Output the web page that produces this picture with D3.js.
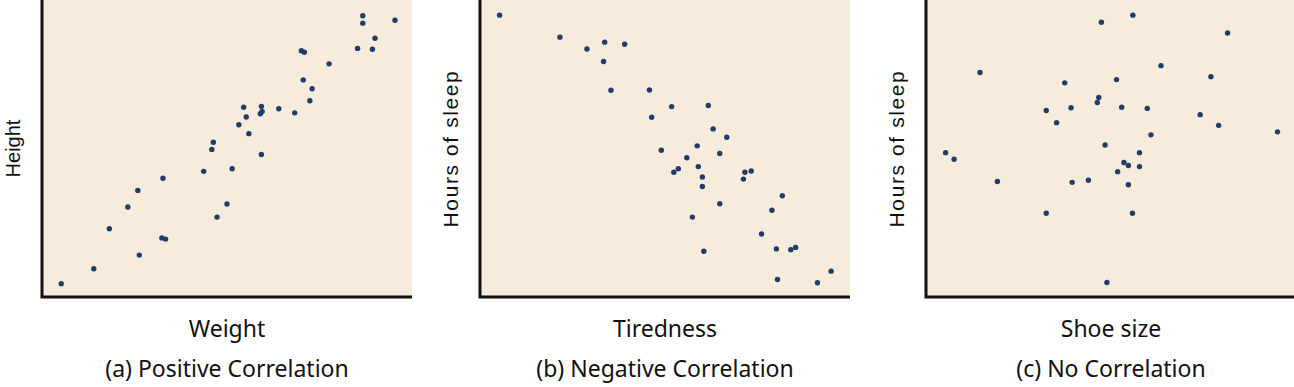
<!DOCTYPE html>
<html>
<head>
<meta charset="utf-8">
<script src="https://cdn.jsdelivr.net/npm/d3@7"></script>
<style>
  html, body { margin: 0; padding: 0; background: #fff; }
  svg { display: block; }
</style>
</head>
<body>
<div class="wrapper"></div>
<script>
// panel titles and axis labels
const panelTitles = ["(a) Positive Correlation", "(b) Negative Correlation", "(c) No Correlation"];
const xLabels = ["Weight", "Tiredness", "Shoe size"];
const yLabels = ["Height", "Hours of sleep", "Hours of sleep"];

// values, both axes in 0..100 units (no ticks shown)
const weightX = [5.2, 14.0, 18.2, 23.2, 25.9, 26.3, 32.7, 32.4, 33.4, 43.7, 47.3, 45.9, 46.3, 50.0, 51.4, 53.2, 54.5, 55.2, 55.9, 59.3, 59.3, 59.5, 59.0, 64.0, 68.3, 70.1, 70.9, 70.6, 73.0, 72.4, 77.6, 85.3, 89.3, 90.0, 86.7, 86.7, 95.4];
const heightY = [4.5, 9.5, 23.0, 30.3, 35.9, 14.1, 40.0, 19.9, 19.5, 42.3, 26.9, 49.7, 52.1, 31.3, 43.2, 58.0, 63.9, 60.6, 55.0, 48.0, 64.2, 62.5, 61.7, 63.4, 62.0, 82.9, 82.4, 73.1, 70.1, 66.1, 78.5, 83.7, 83.4, 87.1, 94.7, 92.2, 93.2];

const tirednessX = [5.3, 21.6, 28.9, 33.7, 39.1, 33.4, 35.4, 45.8, 51.8, 46.4, 61.7, 63.0, 66.7, 49.0, 58.7, 64.8, 55.9, 59.0, 52.4, 53.6, 60.1, 60.1, 71.2, 71.6, 73.3, 64.8, 57.4, 81.7, 78.9, 76.1, 60.5, 80.1, 84.0, 85.3, 80.4, 91.2, 94.9];
const sleepBY = [94.9, 87.5, 83.5, 85.8, 85.1, 79.3, 69.6, 69.7, 64.1, 60.5, 64.5, 56.6, 53.8, 49.4, 50.9, 48.3, 46.9, 43.9, 42.0, 43.2, 40.4, 37.2, 39.7, 42.0, 42.4, 31.4, 26.9, 34.1, 29.2, 21.2, 15.4, 16.2, 15.9, 16.7, 5.9, 4.8, 8.7];

const shoeX = [55.9, 47.4, 81.5, 14.6, 63.5, 77.0, 37.5, 51.5, 46.7, 46.3, 32.5, 39.2, 52.9, 59.8, 74.1, 35.3, 79.1, 95.0, 60.8, 48.4, 5.3, 7.6, 57.7, 53.5, 54.7, 57.7, 51.8, 19.3, 39.5, 43.9, 54.7, 32.5, 55.8, 48.9];
const sleepCY = [94.9, 92.5, 88.9, 75.6, 77.9, 74.2, 72.1, 73.2, 67.2, 65.5, 62.8, 63.7, 63.9, 63.5, 61.4, 58.7, 57.8, 55.6, 54.6, 51.2, 48.6, 46.4, 48.6, 45.3, 44.3, 43.9, 42.2, 38.9, 38.6, 39.3, 37.8, 28.2, 28.2, 4.9];

const seriesX = [weightX, tirednessX, shoeX];
const seriesY = [heightY, sleepBY, sleepCY];

const W = 1294, H = 387;
const panelLeft = [42, 480, 926];
const panelW = 370;
const plotTop = 0, plotBottom = 297;

const svg = d3.select(".wrapper").append("svg")
    .attr("width", W)
    .attr("height", H)
    .attr("viewBox", [0, 0, W, H]);

panelTitles.forEach((title, i) => {
    const x0 = panelLeft[i];
    const x = d3.scaleLinear().domain([0, 100]).range([x0, x0 + panelW]);
    const y = d3.scaleLinear().domain([0, 100]).range([plotBottom, plotTop]);
    const g = svg.append("g").attr("class", "panel");

    g.append("rect")
        .attr("x", x0)
        .attr("y", plotTop)
        .attr("width", Math.min(panelW, W - x0))
        .attr("height", plotBottom - plotTop)
        .attr("fill", "#f7ebdb");

    // axis lines (no ticks in the original)
    g.append("path")
        .attr("d", `M${x0},${plotTop}V${plotBottom}H${Math.min(x0 + panelW, W)}`)
        .attr("fill", "none")
        .attr("stroke", "#111")
        .attr("stroke-width", 3);

    g.selectAll("circle")
        .data(d3.zip(seriesX[i], seriesY[i]))
        .join("circle")
        .attr("cx", d => x(d[0]))
        .attr("cy", d => y(d[1]))
        .attr("r", 2.7)
        .attr("fill", "#1d3d6b");

    g.append("text")
        .text(yLabels[i])
        .attr("transform", `translate(${x0 - 22},${(plotTop + plotBottom) / 2}) rotate(-90)`)
        .attr("text-anchor", "middle")
        .attr("font-family", "'Liberation Sans', Arial, sans-serif")
        .attr("font-size", i === 0 ? 20 : 21)
        .attr("letter-spacing", i === 0 ? 0 : 1.6)
        .attr("fill", "#111");

    g.append("text")
        .text(xLabels[i])
        .attr("x", x0 + panelW / 2)
        .attr("y", 337)
        .attr("text-anchor", "middle")
        .attr("font-family", "'Noto Sans', sans-serif")
        .attr("font-size", 23)
        .attr("fill", "#111");

    g.append("text")
        .text(title)
        .attr("x", x0 + panelW / 2)
        .attr("y", 377)
        .attr("text-anchor", "middle")
        .attr("font-family", "'Noto Sans', sans-serif")
        .attr("font-size", 23)
        .attr("fill", "#111");
});
</script>
</body>
</html>
